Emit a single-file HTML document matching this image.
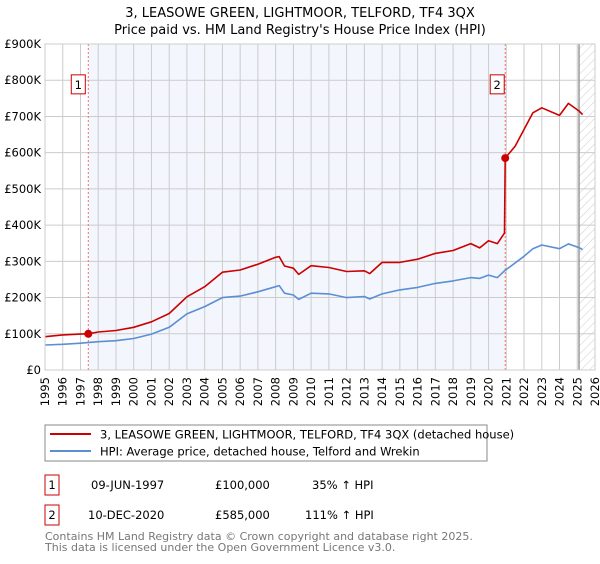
<!DOCTYPE html>
<html><head><meta charset="utf-8"><style>
body{margin:0;background:#fff;width:600px;height:560px;overflow:hidden;font-family:"DejaVu Sans","Liberation Sans",sans-serif}
</style></head><body>
<svg width="600" height="560" xmlns="http://www.w3.org/2000/svg" font-family="DejaVu Sans, Liberation Sans, sans-serif">
<defs><pattern id="hatch" width="6" height="6" patternUnits="userSpaceOnUse" patternTransform="rotate(45)"><line x1="0" y1="0" x2="0" y2="6" stroke="#ccc" stroke-width="1"/></pattern></defs>
<text x="300" y="17" text-anchor="middle" font-size="13">3, LEASOWE GREEN, LIGHTMOOR, TELFORD, TF4 3QX</text>
<text x="300" y="34" text-anchor="middle" font-size="13">Price paid vs. HM Land Registry's House Price Index (HPI)</text>
<g id="plot"></g>
<rect x="45" y="425" width="442" height="36" fill="#fff" stroke="#888"/>
<line x1="50" y1="434" x2="91" y2="434" stroke="#cc0000" stroke-width="2"/>
<text x="100" y="438.5" font-size="11.5">3, LEASOWE GREEN, LIGHTMOOR, TELFORD, TF4 3QX (detached house)</text>
<line x1="50" y1="451" x2="91" y2="451" stroke="#5b8fd4" stroke-width="2"/>
<text x="100" y="455.5" font-size="11.5">HPI: Average price, detached house, Telford and Wrekin</text>
<g font-size="11.5">
<rect x="45" y="475" width="14" height="20" fill="#fff" stroke="#cc0000"/>
<text x="52" y="489" text-anchor="middle">1</text>
<text x="91" y="489">09-JUN-1997</text><text x="215" y="489">£100,000</text><text x="312" y="489">35% ↑ HPI</text>
<rect x="45" y="505" width="14" height="20" fill="#fff" stroke="#cc0000"/>
<text x="52" y="519" text-anchor="middle">2</text>
<text x="88" y="519">10-DEC-2020</text><text x="215" y="519">£585,000</text><text x="305" y="519">111% ↑ HPI</text>
</g>
<text x="45" y="540" font-size="11" fill="#777">Contains HM Land Registry data © Crown copyright and database right 2025.</text>
<text x="45" y="551" font-size="11" fill="#777">This data is licensed under the Open Government Licence v3.0.</text>
</svg>
<script>
const hpiYears=[1995,1996,1997,1998,1999,2000,2001,2002,2003,2004,2005,2006,2007,2008,2008.2,2008.5,2009,2009.3,2010,2011,2012,2013,2013.3,2014,2015,2016,2017,2018,2019,2019.5,2020,2020.5,2020.9,2022,2022.5,2023,2024,2024.5,2025.1,2025.3];
const hpiValues=[69,71,74,78,81,87,99,118,155,175,200,204,216,230,233,212,207,195,212,210,200,203,196,210,221,228,239,246,255,253,262,255,274,314,335,345,335,348,338,332];
const priceYears=[1995,1996,1997,1997.44,1998,1999,2000,2001,2002,2003,2004,2005,2006,2007,2008,2008.2,2008.5,2009,2009.3,2010,2011,2012,2013,2013.3,2014,2015,2016,2017,2018,2019,2019.5,2020,2020.5,2020.9,2020.94,2021.5,2022,2022.5,2023,2024,2024.5,2025.1,2025.3];
const priceValues=[92,97,99,100,105,109,118,133,156,202,230,270,276,292,311,313,287,281,264,288,283,272,274,266,297,297,306,322,330,349,337,357,349,378,585,618,664,710,724,703,736,715,705];
const sales=[{n:"1",year:1997.44,value:100},{n:"2",year:2020.94,value:585}];
const yTicks=[0,100,200,300,400,500,600,700,800,900];
const yTickLabels=["£0","£100K","£200K","£300K","£400K","£500K","£600K","£700K","£800K","£900K"];
const xTicks=[1995,1996,1997,1998,1999,2000,2001,2002,2003,2004,2005,2006,2007,2008,2009,2010,2011,2012,2013,2014,2015,2016,2017,2018,2019,2020,2021,2022,2023,2024,2025,2026];

const X0=45,X1=595,Y0=370,Y1=44;
const xs=y=>X0+(y-1995)/(2026-1995)*(X1-X0);
const ys=v=>Y0-v/900*(Y0-Y1);
const NS="http://www.w3.org/2000/svg";
const g=document.getElementById('plot');
function mk(t,a){const e=document.createElementNS(NS,t);for(const k in a)e.setAttribute(k,a[k]);g.appendChild(e);return e;}
let e=mk('rect',{x:xs(sales[0].year),y:Y1,width:xs(sales[1].year)-xs(sales[0].year),height:Y0-Y1,fill:'#f3f6fd'});


e=mk('rect',{x:xs(2025.1),y:Y1,width:X1-xs(2025.1),height:Y0-Y1,fill:'url(#hatch)'});


xTicks.forEach(t=>{const l=mk('line',{x1:xs(t),x2:xs(t),y1:Y1,y2:Y0,stroke:'#ccc'});


const px=xs(t)+4,py=Y0+7;
const tx=mk('text',{x:px,y:py,'text-anchor':'end','font-size':'11.5',transform:'rotate(-90 '+px+' '+py+')'});tx.textContent=t;

});
yTicks.forEach((t,i)=>{const l=mk('line',{x1:X0,x2:X1,y1:ys(t),y2:ys(t),stroke:'#ccc'});


const tx=mk('text',{x:X0-4,y:ys(t)+4,'text-anchor':'end','font-size':'11.5'});tx.textContent=yTickLabels[i];

});
e=mk('line',{x1:xs(2025.1),x2:xs(2025.1),y1:Y1,y2:Y0,stroke:'#999','stroke-width':1.5});


sales.forEach(s=>{const l=mk('line',{x1:xs(s.year),x2:xs(s.year),y1:Y1,y2:Y0,stroke:'#f07070','stroke-dasharray':'2,2'});

});
function path(xa,va,col,name){const d=xa.map((x,i)=>(i?'L':'M')+xs(x).toFixed(1)+','+ys(va[i]).toFixed(1)).join('');
const p=mk('path',{d:d,fill:'none',stroke:col,'stroke-width':1.6,'stroke-linejoin':'round'});

}
path(hpiYears,hpiValues,'#5b8fd4','hpi-line');
path(priceYears,priceValues,'#cc0000','property-price-line');
sales.forEach(s=>{const c=mk('circle',{cx:xs(s.year),cy:ys(s.value),r:4,fill:'#cc0000'});


const bx=xs(s.year)-(s.n==="1"?17:15),by=ys(790)-9;
const r=mk('rect',{x:bx,y:by,width:14,height:19,fill:'#fff',stroke:'#cc0000'});


const t=mk('text',{x:bx+7,y:by+14,'text-anchor':'middle','font-size':'11.5'});t.textContent=s.n;

});
e=mk('rect',{x:X0,y:Y1,width:X1-X0,height:Y0-Y1,fill:'none',stroke:'#ccc'});


</script>
</body></html>
